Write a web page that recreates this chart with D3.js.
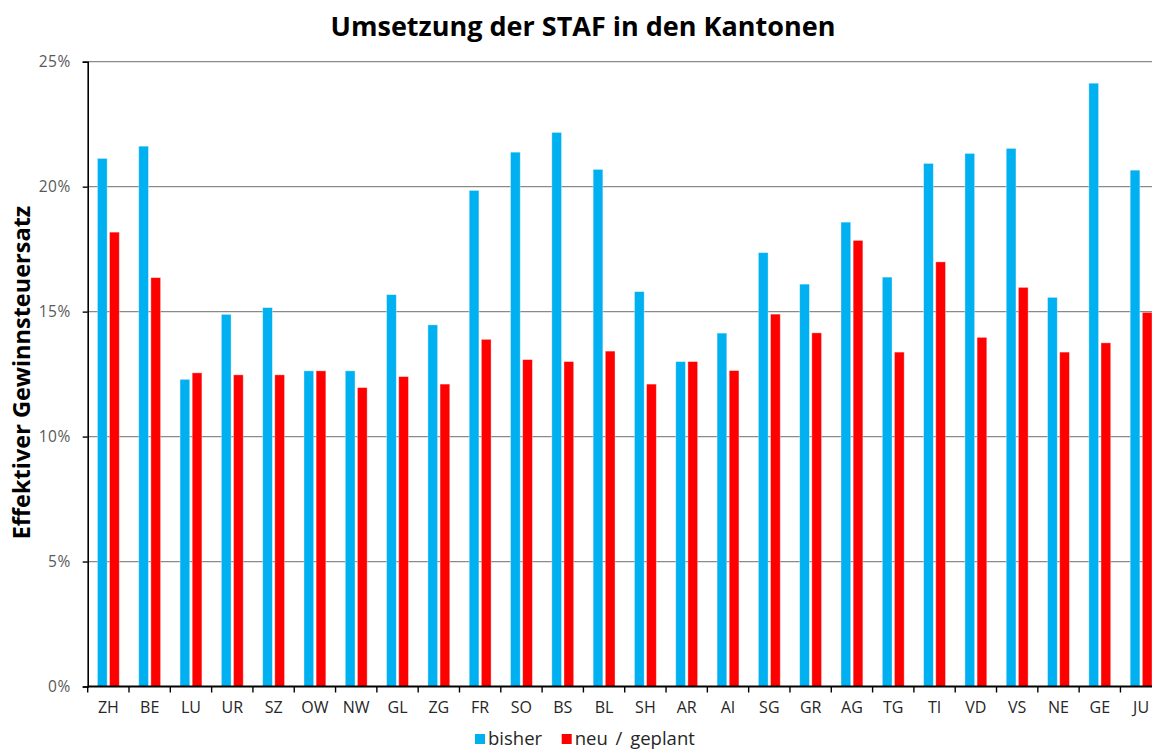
<!DOCTYPE html>
<html>
<head>
<meta charset="utf-8">
<script src="https://cdn.jsdelivr.net/npm/d3@7"></script>
<style>
  html, body { margin: 0; padding: 0; background: #fff; overflow: hidden; }
  svg { display: block; font-family: "Open Sans", "Noto Sans", sans-serif; }
</style>
</head>
<body>
<div id="chart"></div>
<script>
// ── Data ──
const cantons = ["ZH","BE","LU","UR","SZ","OW","NW","GL","ZG","FR","SO","BS","BL",
                 "SH","AR","AI","SG","GR","AG","TG","TI","VD","VS","NE","GE","JU"];
const bisher  = [21.13,21.62,12.29,14.89,15.16,12.63,12.63,15.68,14.47,19.85,21.38,22.17,20.69,
                 15.80,13.00,14.14,17.36,16.10,18.58,16.38,20.93,21.33,21.53,15.57,24.14,20.66];
const geplant = [18.18,16.36,12.55,12.47,12.47,12.63,11.96,12.40,12.10,13.89,13.08,13.00,13.42,
                 12.10,13.00,12.64,14.90,14.15,17.85,13.38,16.99,13.97,15.97,13.38,13.75,14.97];
const seriesNames = ["bisher", "neu / geplant"];
const seriesColors = ["#00b0f0", "#ff0000"];
const yTicks = [0, 5, 10, 15, 20, 25];

const W = 1152, H = 751;
const plotLeft = 87.7, step = 41.31;
const plotTop = 61.7, plotBottom = 686.5;

const svg = d3.select("#chart").append("svg")
  .attr("width", W).attr("height", H);

svg.append("rect").attr("width", W).attr("height", H).attr("fill", "#fff");

const x = d3.scaleBand()
  .domain(cantons)
  .range([plotLeft, plotLeft + step * cantons.length])
  .padding(0);

const x1 = d3.scaleBand()
  .domain(seriesNames)
  .range([0, x.bandwidth()])
  .paddingInner(0.2)
  .paddingOuter(0.8);

const y = d3.scaleLinear().domain([0, 25]).range([plotBottom, plotTop]);

// ── Gridlines ──
svg.append("g").selectAll("line")
  .data(yTicks.filter(d => d > 0))
  .join("line")
  .attr("x1", plotLeft).attr("x2", W)
  .attr("y1", d => y(d)).attr("y2", d => y(d))
  .attr("stroke", "#8a8a8a").attr("stroke-width", 1.3);

// ── Bars ──
const rows = cantons.map((c, i) => ({ canton: c, values: [bisher[i], geplant[i]] }));

const groups = svg.append("g").selectAll("g")
  .data(rows)
  .join("g")
  .attr("transform", d => `translate(${x(d.canton)},0)`);

groups.selectAll("rect")
  .data(d => d.values.map((v, k) => ({ key: seriesNames[k], value: v, color: seriesColors[k] })))
  .join("rect")
  .attr("x", d => x1(d.key))
  .attr("width", x1.bandwidth())
  .attr("y", d => y(d.value))
  .attr("height", d => plotBottom - y(d.value))
  .attr("fill", d => d.color)
  .attr("stroke", "#fff").attr("stroke-opacity", 0.45).attr("stroke-width", 0.8);

// ── Y axis ──
const yAxis = svg.append("g")
  .attr("transform", `translate(${plotLeft},0)`)
  .call(d3.axisLeft(y).tickValues(yTicks).tickFormat(d => d + "%").tickSize(5).tickPadding(12));
yAxis.select(".domain").attr("stroke", "#000").attr("stroke-width", 1.6);
yAxis.selectAll(".tick line").attr("stroke", "#000").attr("stroke-width", 1.4);
yAxis.selectAll(".tick text")
  .attr("font-size", 15.5).attr("fill", "#595959")
  .attr("letter-spacing", 0.5)
  .attr("font-family", "'Open Sans', sans-serif");

// ── X axis ──
const xAxis = svg.append("g")
  .attr("transform", `translate(0,${plotBottom})`)
  .call(d3.axisBottom(x).tickSize(0).tickPadding(15));
xAxis.select(".domain").remove();
xAxis.selectAll(".tick text")
  .attr("font-size", 16).attr("fill", "#262626")
  .attr("font-family", "'Open Sans', sans-serif");

svg.append("line")
  .attr("x1", plotLeft).attr("x2", W)
  .attr("y1", plotBottom).attr("y2", plotBottom)
  .attr("stroke", "#000").attr("stroke-width", 1.8);

// Boundary ticks between categories
svg.append("g").selectAll("line")
  .data(cantons)
  .join("line")
  .attr("x1", d => x(d)).attr("x2", d => x(d))
  .attr("y1", plotBottom).attr("y2", plotBottom + 6)
  .attr("stroke", "#000").attr("stroke-width", 1.4);

// ── Title ──
svg.append("text")
  .attr("x", 583).attr("y", 36)
  .attr("text-anchor", "middle")
  .attr("font-size", 27).attr("font-weight", "bold").attr("fill", "#000")
  .text("Umsetzung der STAF in den Kantonen");

// ── Y label ──
svg.append("text")
  .attr("transform", `translate(30,${(205 + 540) / 2}) rotate(-90)`)
  .attr("text-anchor", "middle")
  .attr("font-size", 23.5).attr("font-weight", "bold").attr("fill", "#000")
  .text("Effektiver Gewinnsteuersatz");

// ── Legend ──
const legendX = [475, 561.7];
const legend = svg.append("g").selectAll("g")
  .data(seriesNames)
  .join("g")
  .attr("transform", (d, i) => `translate(${legendX[i]},734)`);
legend.append("rect")
  .attr("width", 10).attr("height", 10)
  .attr("fill", (d, i) => seriesColors[i]);
legend.append("text")
  .attr("x", 13).attr("y", 10.5)
  .attr("font-size", 18.5).attr("fill", "#262626")
  .attr("word-spacing", 3)
  .text(d => d);
</script>
</body>
</html>
